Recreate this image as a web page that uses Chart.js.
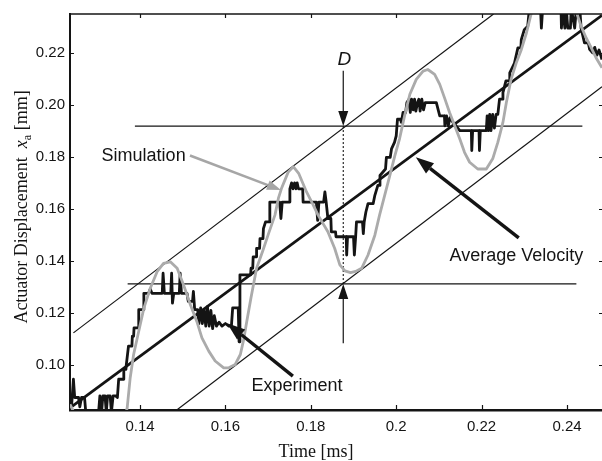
<!DOCTYPE html>
<html>
<head>
<meta charset="utf-8">
<script src="https://cdn.jsdelivr.net/npm/chart.js@4.4.1/dist/chart.umd.min.js"></script>
<style>
  html, body { margin: 0; padding: 0; background: #fff; }
</style>
</head>
<body>
<canvas id="chart" width="602" height="461"></canvas>
<script>
// axis ranges and tick labels
const xRange = [0.1236, 0.2482];
const yRange = [0.0828, 0.2348];
const xTickValues = [0.14, 0.16, 0.18, 0.20, 0.22, 0.24];
const xTickLabels = ['0.14', '0.16', '0.18', '0.2', '0.22', '0.24'];
const yTickValues = [0.10, 0.12, 0.14, 0.16, 0.18, 0.20, 0.22];
const yTickLabels = ['0.10', '0.12', '0.14', '0.16', '0.18', '0.20', '0.22'];

// simulation (gray curve)
const simTime = [
  0.1236, 0.1245, 0.1262, 0.1300, 0.1330, 0.1355, 0.1370, 0.1377, 0.1385, 0.1397,
  0.1409, 0.1424, 0.1440, 0.1455, 0.1471, 0.1487, 0.1502, 0.1518, 0.1533, 0.1545,
  0.1561, 0.1576, 0.1596, 0.1608, 0.1623, 0.1635, 0.1643, 0.1650, 0.1660, 0.1673,
  0.1688, 0.1700, 0.1716, 0.1724, 0.1731, 0.1747, 0.1759, 0.1772, 0.1790, 0.1804,
  0.1817, 0.1840, 0.1856, 0.1868, 0.1880, 0.1893, 0.1905, 0.1919, 0.1934, 0.1950,
  0.1961, 0.1973, 0.1985, 0.1997, 0.2008, 0.2020, 0.2032, 0.2047, 0.2063, 0.2074,
  0.2090, 0.2102, 0.2113, 0.2125, 0.2137, 0.2149, 0.2160, 0.2172, 0.2191, 0.2211,
  0.2226, 0.2238, 0.2250, 0.2258, 0.2269, 0.2281, 0.2293, 0.2305, 0.2316, 0.2340,
  0.2372, 0.2405, 0.2433, 0.2445, 0.2457, 0.2468, 0.2482
];
const simDisp = [
  0.0850, 0.0820, 0.0760, 0.0650, 0.0640, 0.0720, 0.0837, 0.0952, 0.1041, 0.1130,
  0.1219, 0.1295, 0.1359, 0.1391, 0.1397, 0.1372, 0.1308, 0.1232, 0.1168, 0.1105,
  0.1054, 0.1016, 0.0990, 0.0990, 0.1003, 0.1041, 0.1100, 0.1168, 0.1260, 0.1372,
  0.1441, 0.1500, 0.1576, 0.1640, 0.1677, 0.1741, 0.1762, 0.1735, 0.1665, 0.1620,
  0.1576, 0.1512, 0.1448, 0.1385, 0.1362, 0.1355, 0.1360, 0.1372, 0.1423, 0.1499,
  0.1576, 0.1652, 0.1728, 0.1805, 0.1870, 0.1960, 0.2040, 0.2097, 0.2129, 0.2135,
  0.2116, 0.2078, 0.2027, 0.1970, 0.1919, 0.1868, 0.1817, 0.1779, 0.1753, 0.1753,
  0.1792, 0.1855, 0.1932, 0.2008, 0.2097, 0.2160, 0.2211, 0.2275, 0.2348, 0.2440,
  0.2490, 0.2440, 0.2301, 0.2256, 0.2218, 0.2180, 0.2142
];

// experiment (black stepped curve)
const expTime = [
  0.1236, 0.1240, 0.1244, 0.1247, 0.1256, 0.1259, 0.1263, 0.1270, 0.1274, 0.1302,
  0.1306, 0.1310, 0.1313, 0.1318, 0.1321, 0.1324, 0.1330, 0.1333, 0.1337, 0.1343,
  0.1347, 0.1350, 0.1361, 0.1362, 0.1367, 0.1368, 0.1373, 0.1381, 0.1382, 0.1385,
  0.1386, 0.1396, 0.1397, 0.1408, 0.1409, 0.1420, 0.1424, 0.1428, 0.1452, 0.1454,
  0.1457, 0.1472, 0.1474, 0.1476, 0.1479, 0.1492, 0.1494, 0.1497, 0.1510, 0.1513,
  0.1523, 0.1525, 0.1528, 0.1535, 0.1538, 0.1542, 0.1546, 0.1550, 0.1554, 0.1558,
  0.1562, 0.1566, 0.1570, 0.1574, 0.1579, 0.1585, 0.1592, 0.1600, 0.1608, 0.1614,
  0.1617, 0.1630, 0.1632, 0.1634, 0.1659, 0.1660, 0.1664, 0.1665, 0.1672, 0.1673,
  0.1680, 0.1681, 0.1688, 0.1689, 0.1694, 0.1703, 0.1704, 0.1727, 0.1730, 0.1733,
  0.1750, 0.1751, 0.1755, 0.1758, 0.1762, 0.1765, 0.1768, 0.1771, 0.1781, 0.1782,
  0.1813, 0.1816, 0.1819, 0.1830, 0.1833, 0.1836, 0.1840, 0.1847, 0.1848, 0.1858,
  0.1859, 0.1883, 0.1884, 0.1886, 0.1900, 0.1902, 0.1905, 0.1907, 0.1921, 0.1923,
  0.1925, 0.1929, 0.1934, 0.1946, 0.1950, 0.1957, 0.1961, 0.1962, 0.1975, 0.1977,
  0.1986, 0.1989, 0.1996, 0.2000, 0.2003, 0.2010, 0.2012, 0.2016, 0.2022, 0.2025,
  0.2030, 0.2033, 0.2036, 0.2040, 0.2043, 0.2046, 0.2050, 0.2053, 0.2056, 0.2060,
  0.2064, 0.2068, 0.2094, 0.2102, 0.2113, 0.2114, 0.2118, 0.2122, 0.2126, 0.2133,
  0.2140, 0.2149, 0.2176, 0.2177, 0.2179, 0.2194, 0.2195, 0.2197, 0.2211, 0.2213,
  0.2216, 0.2219, 0.2222, 0.2226, 0.2230, 0.2234, 0.2238, 0.2242, 0.2249, 0.2250,
  0.2257, 0.2265, 0.2266, 0.2277, 0.2285, 0.2292, 0.2293, 0.2300, 0.2308, 0.2312,
  0.2338, 0.2340, 0.2343, 0.2386, 0.2387, 0.2390, 0.2395, 0.2398, 0.2402, 0.2408,
  0.2410, 0.2418, 0.2422, 0.2430, 0.2433, 0.2441, 0.2450, 0.2453, 0.2460, 0.2465,
  0.2470, 0.2475, 0.2482
];
const expDisp = [
  0.0840, 0.0850, 0.0946, 0.0876, 0.0876, 0.0840, 0.0876, 0.0876, 0.0800, 0.0800,
  0.0882, 0.0820, 0.0882, 0.0882, 0.0820, 0.0882, 0.0882, 0.0820, 0.0882, 0.0882,
  0.0876, 0.0946, 0.0946, 0.0984, 0.0984, 0.1003, 0.1073, 0.1073, 0.1111, 0.1111,
  0.1143, 0.1143, 0.1213, 0.1213, 0.1276, 0.1276, 0.1292, 0.1276, 0.1276, 0.1353,
  0.1276, 0.1276, 0.1353, 0.1238, 0.1276, 0.1276, 0.1353, 0.1276, 0.1276, 0.1245,
  0.1245, 0.1283, 0.1213, 0.1213, 0.1160, 0.1220, 0.1160, 0.1213, 0.1150, 0.1225,
  0.1150, 0.1210, 0.1140, 0.1190, 0.1150, 0.1165, 0.1150, 0.1160, 0.1150, 0.1150,
  0.1220, 0.1220, 0.1090, 0.1347, 0.1347, 0.1372, 0.1372, 0.1416, 0.1416, 0.1448,
  0.1448, 0.1486, 0.1486, 0.1524, 0.1550, 0.1550, 0.1626, 0.1626, 0.1563, 0.1626,
  0.1626, 0.1677, 0.1700, 0.1677, 0.1700, 0.1677, 0.1700, 0.1677, 0.1677, 0.1626,
  0.1626, 0.1556, 0.1626, 0.1626, 0.1665, 0.1626, 0.1563, 0.1563, 0.1512, 0.1512,
  0.1493, 0.1493, 0.1423, 0.1493, 0.1493, 0.1423, 0.1493, 0.1550, 0.1550, 0.1505,
  0.1550, 0.1588, 0.1620, 0.1620, 0.1652, 0.1690, 0.1690, 0.1728, 0.1753, 0.1798,
  0.1798, 0.1830, 0.1855, 0.1880, 0.1944, 0.1944, 0.1932, 0.1970, 0.1970, 0.2008,
  0.2021, 0.1970, 0.2021, 0.1980, 0.2021, 0.1975, 0.2008, 0.2021, 0.1975, 0.2021,
  0.1980, 0.2008, 0.2008, 0.1957, 0.1957, 0.1919, 0.1957, 0.1919, 0.1950, 0.1932,
  0.1919, 0.1900, 0.1900, 0.1824, 0.1900, 0.1900, 0.1824, 0.1900, 0.1900, 0.1957,
  0.1900, 0.1963, 0.1900, 0.1963, 0.1910, 0.1963, 0.1963, 0.2021, 0.2021, 0.2046,
  0.2091, 0.2091, 0.2122, 0.2160, 0.2218, 0.2218, 0.2250, 0.2288, 0.2301, 0.2370,
  0.2370, 0.2294, 0.2370, 0.2370, 0.2294, 0.2370, 0.2294, 0.2370, 0.2294, 0.2294,
  0.2370, 0.2294, 0.2370, 0.2370, 0.2294, 0.2237, 0.2237, 0.2212, 0.2199, 0.2220,
  0.2190, 0.2210, 0.2173
];

// average velocity line and the two parallel bounds
const avgTime = [0.1240, 0.2482];
const avgDisp = [0.0841, 0.2343];
const upperTime = [0.1244, 0.2228];
const upperDisp = [0.1124, 0.2348];
const lowerTime = [0.1486, 0.2482];
const lowerDisp = [0.0828, 0.2069];

// horizontal levels and the D marker
const highLevelTime = [0.1388, 0.2436];
const highLevel = 0.1918;
const lowLevelTime = [0.1371, 0.2422];
const lowLevel = 0.1312;
const dTime = 0.1876;

// annotation anchors [time, displacement]
const simLabelAt = [0.1310, 0.1804];
const simArrow = [[0.1517, 0.1805], [0.1730, 0.1672]];
const avgLabelAt = [0.2125, 0.1420];
const avgArrow = [[0.2287, 0.1489], [0.2046, 0.1798]];
const expLabelAt = [0.1661, 0.0920];
const expArrow = [[0.1758, 0.0958], [0.1604, 0.1161]];
const dLabelAt = [dTime, 0.2172];
const dArrowDown = [0.2130, highLevel];
const dArrowUp = [0.1084, lowLevel];

const toPoints = (xs, ys) => xs.map((x, i) => ({ x: x, y: ys[i] }));
const flat = (xs, v) => xs.map(x => ({ x: x, y: v }));

const sansFont = '"Liberation Sans", Arial, sans-serif';
const serifFont = '"Liberation Serif", "Times New Roman", serif';
const ink = '#141414';

function drawArrow(ctx, x0, y0, x1, y1, width, headLen, headW, color) {
  const ang = Math.atan2(y1 - y0, x1 - x0);
  const bx = x1 - Math.cos(ang) * headLen;
  const by = y1 - Math.sin(ang) * headLen;
  ctx.save();
  ctx.strokeStyle = color;
  ctx.fillStyle = color;
  ctx.lineWidth = width;
  ctx.beginPath();
  ctx.moveTo(x0, y0);
  ctx.lineTo(bx, by);
  ctx.stroke();
  ctx.beginPath();
  ctx.moveTo(x1, y1);
  ctx.lineTo(bx + Math.sin(ang) * headW / 2, by - Math.cos(ang) * headW / 2);
  ctx.lineTo(bx - Math.sin(ang) * headW / 2, by + Math.cos(ang) * headW / 2);
  ctx.closePath();
  ctx.fill();
  ctx.restore();
}

// frame, inner ticks, labels and arrows
const overlay = {
  id: 'overlay',
  afterDraw(chart) {
    const { ctx, chartArea: a, scales: { x, y } } = chart;
    const px = p => [x.getPixelForValue(p[0]), y.getPixelForValue(p[1])];

    ctx.save();
    ctx.strokeStyle = ink;
    // top frame line
    ctx.lineWidth = 1.6;
    ctx.beginPath();
    ctx.moveTo(a.left, a.top);
    ctx.lineTo(a.right, a.top);
    ctx.stroke();

    // inward ticks on all four sides
    ctx.lineWidth = 1.2;
    xTickValues.forEach(v => {
      const xp = Math.round(x.getPixelForValue(v)) + 0.5;
      ctx.beginPath();
      ctx.moveTo(xp, a.bottom);
      ctx.lineTo(xp, a.bottom - 5);
      ctx.moveTo(xp, a.top);
      ctx.lineTo(xp, a.top + 4);
      ctx.stroke();
    });
    yTickValues.forEach(v => {
      const yp = Math.round(y.getPixelForValue(v)) + 0.5;
      ctx.beginPath();
      ctx.moveTo(a.left, yp);
      ctx.lineTo(a.left + 4, yp);
      ctx.moveTo(a.right, yp);
      ctx.lineTo(a.right - 3, yp);
      ctx.stroke();
    });

    // annotation labels
    ctx.fillStyle = ink;
    ctx.font = '18px ' + sansFont;
    ctx.textBaseline = 'middle';
    ctx.textAlign = 'left';
    let p = px(simLabelAt);
    ctx.fillText('Simulation', p[0], p[1]);
    p = px(avgLabelAt);
    ctx.fillText('Average Velocity', p[0], p[1]);
    p = px(expLabelAt);
    ctx.fillText('Experiment', p[0], p[1]);
    ctx.font = 'italic 19px ' + sansFont;
    ctx.textAlign = 'center';
    p = px(dLabelAt);
    ctx.fillText('D', p[0] + 1, p[1]);

    // arrows
    let t = px(simArrow[0]), h = px(simArrow[1]);
    drawArrow(ctx, t[0], t[1], h[0], h[1], 2.6, 14, 10, '#a6a6a6');
    t = px(avgArrow[0]); h = px(avgArrow[1]);
    drawArrow(ctx, t[0], t[1], h[0], h[1], 3.4, 18, 13, ink);
    t = px(expArrow[0]); h = px(expArrow[1]);
    drawArrow(ctx, t[0], t[1], h[0], h[1], 3.4, 18, 13, ink);
    const dx = x.getPixelForValue(dTime);
    drawArrow(ctx, dx, y.getPixelForValue(dArrowDown[0]), dx, y.getPixelForValue(dArrowDown[1]), 1.2, 15, 10, ink);
    drawArrow(ctx, dx, y.getPixelForValue(dArrowUp[0]), dx, y.getPixelForValue(dArrowUp[1]), 1.2, 15, 10, ink);

    // axis titles
    ctx.font = '18px ' + serifFont;
    ctx.textAlign = 'center';
    ctx.textBaseline = 'alphabetic';
    ctx.fillText('Time [ms]', 316, 457);

    const partA = 'Actuator Displacement  ';
    const partX = 'x';
    const partSub = 'a';
    const partB = ' [mm]';
    ctx.font = '18px ' + serifFont;
    const wA = ctx.measureText(partA).width;
    const wB = ctx.measureText(partB).width;
    ctx.font = 'italic 18px ' + serifFont;
    const wX = ctx.measureText(partX).width;
    ctx.font = '12px ' + serifFont;
    const wS = ctx.measureText(partSub).width;
    const total = wA + wX + wS + wB;
    ctx.translate(27, 207);
    ctx.rotate(-Math.PI / 2);
    ctx.textAlign = 'left';
    let cx = -total / 2;
    ctx.font = '18px ' + serifFont;
    ctx.fillText(partA, cx, 0); cx += wA;
    ctx.font = 'italic 18px ' + serifFont;
    ctx.fillText(partX, cx, 0); cx += wX;
    ctx.font = '12px ' + serifFont;
    ctx.fillText(partSub, cx, 4); cx += wS;
    ctx.font = '18px ' + serifFont;
    ctx.fillText(partB, cx, 0);
    ctx.restore();
  }
};

const lineSet = (data, color, width, extra) => Object.assign({
  data: data, borderColor: color, borderWidth: width, showLine: true,
  pointRadius: 0, fill: false, clip: 0, borderJoinStyle: 'round'
}, extra || {});

new Chart(document.getElementById('chart'), {
  type: 'scatter',
  data: {
    datasets: [
      lineSet(toPoints(simTime, simDisp), '#ababab', 2.8),
      lineSet(toPoints(upperTime, upperDisp), ink, 1.2),
      lineSet(toPoints(lowerTime, lowerDisp), ink, 1.2),
      lineSet(flat(highLevelTime, highLevel), ink, 1.3),
      lineSet(flat(lowLevelTime, lowLevel), ink, 1.3),
      lineSet([{ x: dTime, y: highLevel }, { x: dTime, y: lowLevel }], ink, 1.1, { borderDash: [2, 2] }),
      lineSet(toPoints(expTime, expDisp), ink, 2.8),
      lineSet(toPoints(avgTime, avgDisp), ink, 2.8)
    ]
  },
  options: {
    responsive: false,
    animation: false,
    layout: { padding: { top: 12, left: 0, right: 0, bottom: 0 } },
    plugins: { legend: { display: false }, tooltip: { enabled: false } },
    scales: {
      x: {
        type: 'linear', min: xRange[0], max: xRange[1],
        afterBuildTicks: s => { s.ticks = xTickValues.map(v => ({ value: v })); },
        afterFit: s => { s.height = 51; },
        ticks: {
          callback: v => xTickLabels[xTickValues.findIndex(t => Math.abs(t - v) < 1e-9)],
          font: { family: sansFont, size: 15 }, color: ink, padding: 8,
          maxRotation: 0, autoSkip: false
        },
        grid: { display: false, drawTicks: false },
        border: { display: true, color: ink, width: 2.6 }
      },
      y: {
        type: 'linear', min: yRange[0], max: yRange[1],
        afterBuildTicks: s => { s.ticks = yTickValues.map(v => ({ value: v })); },
        afterFit: s => { s.width = 70; },
        ticks: {
          callback: v => yTickLabels[yTickValues.findIndex(t => Math.abs(t - v) < 1e-9)],
          font: { family: sansFont, size: 15 }, color: ink, padding: 5,
          autoSkip: false
        },
        grid: { display: false, drawTicks: false },
        border: { display: true, color: ink, width: 2 }
      }
    }
  },
  plugins: [overlay]
});
</script>
</body>
</html>
